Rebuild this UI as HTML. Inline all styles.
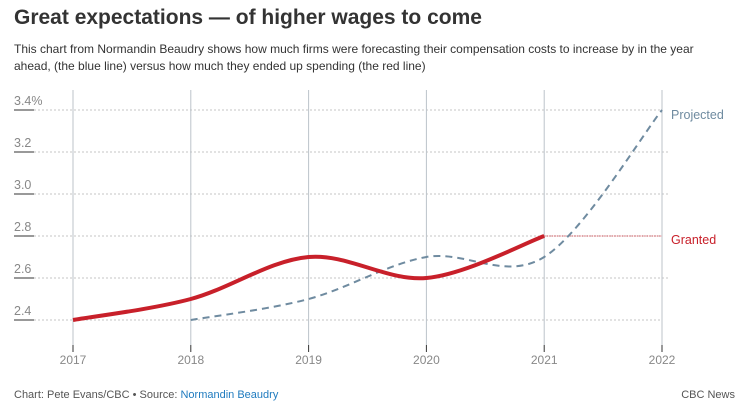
<!DOCTYPE html>
<html><head><meta charset="utf-8"><style>
body{margin:0;background:#fff;font-family:"Liberation Sans",sans-serif;width:749px;height:408px;overflow:hidden;position:relative}
.t{position:absolute;left:14px;top:6px;font-size:21px;font-weight:bold;color:#333}
.s{position:absolute;left:14px;top:41px;width:700px;font-size:12px;line-height:17px;color:#333}
.f{position:absolute;top:389px;font-size:11px;color:#555}
</style></head><body>
<div class="t">Great expectations — of higher wages to come</div>
<div class="s">This chart from Normandin Beaudry shows how much firms were forecasting their compensation costs to increase by in the year ahead, (the blue line) versus how much they ended up spending (the red line)</div>
<svg id="c" width="749" height="408" style="position:absolute;left:0;top:0"></svg>
<div class="f" style="left:14px">Chart: Pete Evans/CBC • Source: <span style="color:#1f7bbf">Normandin Beaudry</span></div>
<div class="f" style="right:14px">CBC News</div>
<script>
const years=[2017,2018,2019,2020,2021,2022];
const yTicks=[2.4,2.6,2.8,3.0,3.2,3.4];
const yTickLabels=["2.4","2.6","2.8","3.0","3.2","3.4%"];
const grantedYears=[2017,2018,2019,2020,2021];
const grantedValues=[2.4,2.5,2.7,2.6,2.8];
const projectedYears=[2018,2019,2020,2021,2022];
const projectedValues=[2.4,2.5,2.7,2.7,3.4];
const NS="http://www.w3.org/2000/svg",svg=document.getElementById('c');
const x=v=>73+(v-2017)*117.8, y=v=>320-(v-2.4)*210;
function mk(t,a,p){const e=document.createElementNS(NS,t);for(const k in a)e.setAttribute(k,a[k]);(p||svg).appendChild(e);return e;}
yTicks.forEach((v,i)=>{
 const g=mk('line',{x1:34,x2:i==1||i==3||i==4?669:662,y1:y(v),y2:y(v),stroke:'#c4c4c4','stroke-dasharray':'2,2'});
 
 const u=mk('line',{x1:14,x2:34,y1:y(v),y2:y(v),stroke:'#333'});
 
 const t=mk('text',{x:14,y:y(v)-5,'font-size':12.5,fill:'#888'});t.textContent=yTickLabels[i];
 
});
years.forEach(v=>{
 const l=mk('line',{x1:x(v),x2:x(v),y1:90,y2:345,stroke:'#bcc3ca'});
 
 const k=mk('line',{x1:x(v),x2:x(v),y1:345,y2:352,stroke:'#333'});
 
 const t=mk('text',{x:x(v),y:364,'font-size':12,fill:'#888','text-anchor':'middle'});t.textContent=v;
 
});
function path(xs,vs){const p=xs.map((v,i)=>[x(v),y(vs[i])]);let d='M'+p[0];
 for(let i=0;i<p.length-1;i++){const p0=p[i-1]||p[i],p1=p[i],p2=p[i+1],p3=p[i+2]||p2;
  d+=`C${p1[0]+(p2[0]-p0[0])/6},${p1[1]+(p2[1]-p0[1])/6} ${p2[0]-(p3[0]-p1[0])/6},${p2[1]-(p3[1]-p1[1])/6} ${p2[0]},${p2[1]}`;}
 return d;}
const gl=grantedValues[grantedValues.length-1];
const gd=mk('line',{x1:x(grantedYears[grantedYears.length-1]),x2:x(2022),y1:y(gl),y2:y(gl),stroke:'#c8202a','stroke-width':0.8,'stroke-dasharray':'1.5,1'});

const pp=mk('path',{d:path(projectedYears,projectedValues),fill:'none',stroke:'#6f8ba0','stroke-width':2,'stroke-dasharray':'7,5'});

const gp=mk('path',{d:path(grantedYears,grantedValues),fill:'none',stroke:'#c8202a','stroke-width':4});

const l1=mk('text',{x:671,y:y(projectedValues[4])+9,'font-size':12.5,fill:'#6f8ba0'});l1.textContent='Projected';

const l2=mk('text',{x:671,y:y(gl)+8,'font-size':12.5,fill:'#c8202a'});l2.textContent='Granted';

</script>
</body></html>
